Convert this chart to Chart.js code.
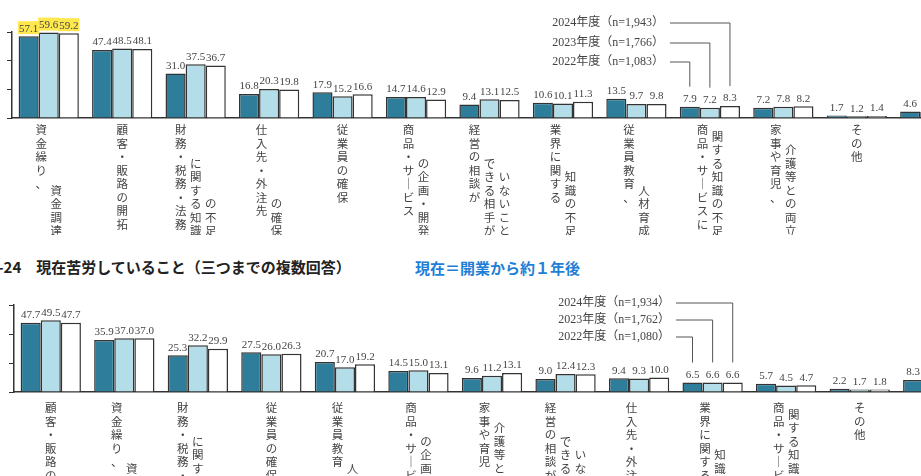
<!DOCTYPE html>
<html>
<head>
<meta charset="utf-8">
<script src="https://cdn.jsdelivr.net/npm/chart.js@4"></script>
<style>
  body { margin: 0; width: 921px; height: 476px; overflow: hidden; background: #fff; position: relative; font-family: "Noto Sans CJK JP", sans-serif; }
  canvas { position: absolute; left: 0; }
  #title { position: absolute; left: -2px; top: 256px; font-size: 15px; font-weight: bold; color: #222; white-space: nowrap; }
  #note { position: absolute; left: 415px; top: 257px; font-size: 15px; font-weight: bold; color: #1f7fd6; white-space: nowrap; }
</style>
</head>
<body>
<canvas id="top" width="1000" height="235" style="top:0"></canvas>
<div id="title">-24　現在苦労していること（三つまでの複数回答）</div>
<div id="note">現在＝開業から約１年後</div>
<canvas id="bottom" width="1000" height="196" style="top:280px"></canvas>
<script>
// column breaks in the vertical labels are marked with "|"
const topLabels = ['資金繰り、|資金調達', '顧客・販路の開拓', '財務・税務・法務|に関する知識|の不足', '仕入先・外注先|の確保',
  '従業員の確保', '商品・サービス|の企画・開発', '経営の相談が|できる相手が|いないこと', '業界に関する|知識の不足',
  '従業員教育、|人材育成', '商品・サービスに|関する知識の不足', '家事や育児、|介護等との両立', 'その他', '特にない'];
const top2022 = [57.1, 47.4, 31.0, 16.8, 17.9, 14.7, 9.4, 10.6, 13.5, 7.9, 7.2, 1.7, 4.6];
const top2023 = [59.6, 48.5, 37.5, 20.3, 15.2, 14.6, 13.1, 10.1, 9.7, 7.2, 7.8, 1.2, 4.2];
const top2024 = [59.2, 48.1, 36.7, 19.8, 16.6, 12.9, 12.5, 11.3, 9.8, 8.3, 8.2, 1.4, 4.0];
const topLegend = ['2022年度（n=1,083）', '2023年度（n=1,766）', '2024年度（n=1,943）'];

const botLabels = ['顧客・販路の開拓', '資金繰り、|資金調達', '財務・税務・法務|に関する知識|の不足', '従業員の確保',
  '従業員教育、|人材育成', '商品・サービス|の企画・開発', '家事や育児、|介護等との両立', '経営の相談が|できる相手が|いないこと',
  '仕入先・外注先|の確保', '業界に関する|知識の不足', '商品・サービス|関する知識の不足', 'その他', '特にない'];
const bot2022 = [47.7, 35.9, 25.3, 27.5, 20.7, 14.5, 9.6, 9.0, 9.4, 6.5, 5.7, 2.2, 8.3];
const bot2023 = [49.5, 37.0, 32.2, 26.0, 17.0, 15.0, 11.2, 12.4, 9.3, 6.6, 4.5, 1.7, 7.5];
const bot2024 = [47.7, 37.0, 29.9, 26.3, 19.2, 13.1, 13.1, 12.3, 10.0, 6.6, 4.7, 1.8, 7.0];
const botLegend = ['2022年度（n=1,080）', '2023年度（n=1,762）', '2024年度（n=1,934）'];

const yTicks = [0, 20, 40, 60];
const fills = ['#2e7d9a', '#b3dde8', '#ffffff'];

const decor = {
  id: 'decor',
  afterDatasetsDraw(chart, args, o) {
    const ctx = chart.ctx;
    const xs = chart.scales.x;
    // value labels
    ctx.font = '11px "Liberation Serif", "DejaVu Serif", serif';
    ctx.textAlign = 'center';
    ctx.textBaseline = 'bottom';
    chart.data.datasets.forEach((ds, d) => {
      chart.getDatasetMeta(d).data.forEach((bar, i) => {
        const txt = ds.data[i].toFixed(1);
        if (o.highlight === i) {
          const w = ctx.measureText(txt).width;
          ctx.fillStyle = '#ffe84d';
          ctx.fillRect(bar.x - w / 2 - 1, bar.y - 15, w + 2, 13);
        }
        ctx.fillStyle = '#444';
        ctx.fillText(txt, bar.x, bar.y - 2);
      });
    });
    // vertical category labels
    const step = 13.5, colGap = 15;
    ctx.font = '11.5px "Noto Sans CJK JP", sans-serif';
    ctx.textBaseline = 'top';
    ctx.fillStyle = '#444';
    chart.data.labels.forEach((lab, i) => {
      const cols = lab.split('|');
      const bottom = Math.max(8.5, ...cols.map(c => c.length));
      const cx = xs.getPixelForValue(i);
      cols.forEach((c, k) => {
        const x = cx + (k - (cols.length - 1) / 2) * colGap;
        const start = k === 0 ? 0 : bottom - c.length;
        [...c].forEach((ch, j) => {
          ctx.fillText(ch === 'ー' ? '｜' : ch, x, o.labelTop + (start + j) * step);
        });
      });
    });
    // legend callouts
    ctx.font = '12px "Liberation Serif", "Noto Sans CJK JP", serif';
    ctx.textAlign = 'right';
    ctx.textBaseline = 'middle';
    ctx.strokeStyle = '#555';
    ctx.lineWidth = 1;
    o.legend.forEach((txt, d) => {
      const bar = chart.getDatasetMeta(d).data[o.target];
      const ty = o.legendY[d];
      ctx.fillStyle = '#444';
      ctx.fillText(txt, o.legendX, ty);
      ctx.beginPath();
      ctx.moveTo(o.legendX + 6, ty);
      ctx.lineTo(bar.x, ty);
      ctx.lineTo(bar.x, bar.y - 20);
      ctx.stroke();
    });
  }
};

function makeChart(id, labels, a, b, c, pad, opts) {
  return new Chart(document.getElementById(id), {
    type: 'bar',
    data: {
      labels: labels,
      datasets: [a, b, c].map((v, d) => ({
        data: v,
        backgroundColor: fills[d],
        borderColor: '#333',
        borderWidth: 1.5,
        categoryPercentage: 0.82,
        barPercentage: 1
      }))
    },
    options: {
      responsive: false,
      animation: false,
      layout: { padding: pad },
      plugins: { legend: { display: false }, tooltip: { enabled: false }, decor: opts },
      scales: {
        x: {
          grid: { display: false },
          ticks: { display: false },
          border: { display: true, color: '#333', width: 1.5 },
          afterFit: s => { s.height = 0; }
        },
        y: {
          min: yTicks[0], max: yTicks[yTicks.length - 1],
          afterBuildTicks: s => { s.ticks = yTicks.map(v => ({ value: v })); },
          ticks: { display: false },
          grid: { drawOnChartArea: false, tickLength: 5, color: '#333' },
          border: { display: true, color: '#333', width: 1.5 },
          afterFit: s => { s.width = 8; }
        }
      }
    },
    plugins: [decor]
  });
}

makeChart('top', topLabels, top2022, top2023, top2024,
  { top: 32, bottom: 117, left: 4, right: 33 },
  { legend: topLegend, target: 9, legendX: 664, legendY: [62, 43, 23], labelTop: 124, highlight: 0 });
makeChart('bottom', botLabels, bot2022, bot2023, bot2024,
  { top: 25, bottom: 84, left: 6, right: 30 },
  { legend: botLegend, target: 9, legendX: 670, legendY: [57, 40, 23], labelTop: 122, highlight: -1 });
</script>
</body>
</html>
